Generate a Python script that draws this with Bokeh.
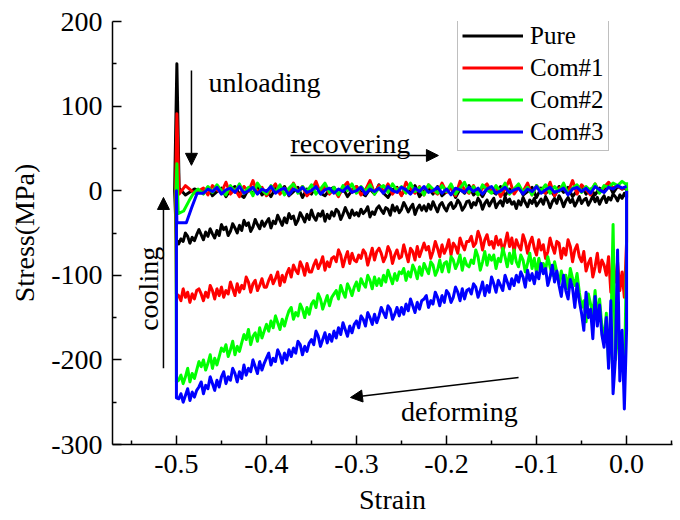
from bokeh.plotting import figure
from bokeh.models import Range1d, FixedTicker, Label, Arrow, NormalHead, Legend, LegendItem
from bokeh.embed import file_html
from bokeh.resources import INLINE

# ---------------- data ----------------
X_TICKS = [-0.5, -0.4, -0.3, -0.2, -0.1, 0.0]
X_TICK_LABELS = ["-0.5", "-0.4", "-0.3", "-0.2", "-0.1", "0.0"]
X_MINOR = [-0.55, -0.45, -0.35, -0.25, -0.15, -0.05, 0.05]
Y_TICKS = [-300, -200, -100, 0, 100, 200]
Y_TICK_LABELS = ["-300", "-200", "-100", "0", "100", "200"]
Y_MINOR = [-250, -150, -50, 50, 150]

SERIES = ["Pure", "Com#1", "Com#2", "Com#3"]

# strain along the deforming path (from 0 to -0.5)
S_DEFORM = [0.0, 0.0,
    -0.0025, -0.0050, -0.0075, -0.0100, -0.0125, -0.0150, -0.0175, -0.0200, -0.0225, -0.0250,
    -0.0275, -0.0300, -0.0325, -0.0350, -0.0375, -0.0400, -0.0425, -0.0450, -0.0475, -0.0500,
    -0.0525, -0.0550, -0.0575, -0.0600, -0.0625, -0.0650, -0.0675, -0.0700, -0.0725, -0.0750,
    -0.0775, -0.0800, -0.0825, -0.0850, -0.0875, -0.0900, -0.0925, -0.0950, -0.0975, -0.1000,
    -0.1025, -0.1050, -0.1075, -0.1100, -0.1125, -0.1150, -0.1175, -0.1200, -0.1225, -0.1250,
    -0.1275, -0.1300, -0.1325, -0.1350, -0.1375, -0.1400, -0.1425, -0.1450, -0.1475, -0.1500,
    -0.1525, -0.1550, -0.1575, -0.1600, -0.1625, -0.1650, -0.1675, -0.1700, -0.1725, -0.1750,
    -0.1775, -0.1800, -0.1825, -0.1850, -0.1875, -0.1900, -0.1925, -0.1950, -0.1975, -0.2000,
    -0.2025, -0.2050, -0.2075, -0.2100, -0.2125, -0.2150, -0.2175, -0.2200, -0.2225, -0.2250,
    -0.2275, -0.2300, -0.2325, -0.2350, -0.2375, -0.2400, -0.2425, -0.2450, -0.2475, -0.2500,
    -0.2525, -0.2550, -0.2575, -0.2600, -0.2625, -0.2650, -0.2675, -0.2700, -0.2725, -0.2750,
    -0.2775, -0.2800, -0.2825, -0.2850, -0.2875, -0.2900, -0.2925, -0.2950, -0.2975, -0.3000,
    -0.3025, -0.3050, -0.3075, -0.3100, -0.3125, -0.3150, -0.3175, -0.3200, -0.3225, -0.3250,
    -0.3275, -0.3300, -0.3325, -0.3350, -0.3375, -0.3400, -0.3425, -0.3450, -0.3475, -0.3500,
    -0.3525, -0.3550, -0.3575, -0.3600, -0.3625, -0.3650, -0.3675, -0.3700, -0.3725, -0.3750,
    -0.3775, -0.3800, -0.3825, -0.3850, -0.3875, -0.3900, -0.3925, -0.3950, -0.3975, -0.4000,
    -0.4025, -0.4050, -0.4075, -0.4100, -0.4125, -0.4150, -0.4175, -0.4200, -0.4225, -0.4250,
    -0.4275, -0.4300, -0.4325, -0.4350, -0.4375, -0.4400, -0.4425, -0.4450, -0.4475, -0.4500,
    -0.4525, -0.4550, -0.4575, -0.4600, -0.4625, -0.4650, -0.4675, -0.4700, -0.4725, -0.4750,
    -0.4775, -0.4800, -0.4825, -0.4850, -0.4875, -0.4900, -0.4925, -0.4950, -0.4975, -0.5000]

PURE_DEFORM = [2, -8,
    -3, -9, -5, -12, -7, -4, -11, -8, -14, -6,
    -10, -16, -8, -13, -6, -12, -17, -9, -11, -15,
    -7, -13, -18, -10, -14, -8, -12, -19, -11, -6,
    -15, -9, -13, -20, -12, -7, -16, -10, -14, -18,
    -9, -15, -11, -19, -14, -8, -17, -12, -21, -13,
    -16, -10, -14, -7, -18, -12, -15, -20, -9, -13,
    -18, -11, -15, -22, -13, -9, -17, -14, -20, -12,
    -13, -19, -23, -15, -11, -18, -21, -14, -17, -24,
    -20, -14, -17, -25, -19, -13, -22, -16, -24, -18,
    -23, -17, -21, -28, -16, -20, -25, -19, -14, -22,
    -26, -19, -24, -17, -29, -22, -20, -27, -23, -18,
    -21, -28, -25, -31, -19, -24, -27, -22, -30, -26,
    -29, -23, -32, -26, -20, -28, -34, -25, -22, -30,
    -25, -33, -28, -36, -24, -30, -27, -35, -31, -23,
    -34, -28, -37, -31, -26, -35, -40, -30, -33, -27,
    -38, -32, -41, -35, -29, -39, -36, -44, -33, -37,
    -42, -36, -45, -40, -34, -43, -48, -38, -41, -35,
    -47, -41, -50, -44, -39, -48, -53, -43, -46, -40,
    -53, -47, -56, -51, -45, -54, -49, -58, -52, -46,
    -52, -59, -55, -62, -54, -50, -60, -57, -63, -58]

COM1_DEFORM = [0, -60,
    -126, -96, -118, -84, -108, -92, -120, -78, -100, -88,
    -82, -96, -74, -90, -102, -80, -86, -95, -72, -84,
    -78, -64, -70, -84, -66, -58, -76, -68, -80, -62,
    -60, -74, -66, -56, -72, -80, -64, -70, -58, -76,
    -68, -55, -62, -74, -60, -52, -70, -65, -58, -72,
    -56, -66, -50, -62, -72, -58, -64, -54, -68, -60,
    -64, -52, -58, -70, -56, -48, -62, -66, -54, -60,
    -60, -70, -64, -56, -74, -66, -62, -76, -58, -68,
    -74, -64, -78, -68, -60, -72, -80, -66, -70, -62,
    -70, -78, -66, -82, -72, -68, -84, -74, -64, -78,
    -80, -70, -76, -86, -72, -66, -78, -84, -74, -68,
    -72, -82, -68, -78, -88, -74, -70, -80, -76, -84,
    -82, -74, -86, -72, -80, -90, -76, -70, -84, -78,
    -80, -90, -84, -94, -78, -86, -92, -82, -88, -96,
    -96, -86, -100, -90, -84, -98, -94, -88, -102, -92,
    -98, -108, -100, -112, -96, -104, -110, -100, -106, -114,
    -114, -104, -112, -118, -106, -110, -120, -108, -102, -116,
    -112, -120, -110, -124, -116, -108, -122, -118, -126, -114,
    -124, -116, -128, -118, -112, -126, -120, -130, -122, -116,
    -118, -128, -122, -132, -120, -126, -116, -130, -124, -122]

COM2_DEFORM = [10, -70,
    -230, -190, -210, -150, -200, -40, -170, -205, -145, -175,
    -160, -128, -150, -118, -146, -134, -122, -155, -130, -138,
    -120, -98, -112, -104, -92, -116, -100, -108, -95, -110,
    -96, -84, -100, -90, -78, -94, -86, -92, -80, -98,
    -80, -92, -74, -86, -96, -82, -76, -90, -84, -70,
    -86, -74, -90, -78, -68, -84, -80, -92, -76, -82,
    -76, -88, -72, -84, -94, -78, -70, -86, -82, -90,
    -88, -80, -94, -76, -86, -92, -82, -78, -96, -84,
    -86, -96, -82, -94, -100, -88, -84, -98, -92, -86,
    -100, -90, -104, -94, -88, -102, -96, -106, -92, -98,
    -96, -106, -98, -110, -102, -94, -108, -100, -112, -104,
    -112, -102, -116, -106, -100, -114, -110, -104, -118, -108,
    -114, -124, -116, -110, -126, -120, -112, -128, -118, -122,
    -126, -136, -124, -132, -140, -128, -122, -138, -130, -134,
    -146, -138, -150, -140, -134, -148, -144, -152, -138, -142,
    -150, -160, -152, -164, -156, -148, -162, -154, -166, -158,
    -166, -174, -162, -178, -168, -172, -182, -164, -176, -170,
    -180, -190, -184, -194, -178, -188, -196, -182, -190, -186,
    -196, -206, -198, -210, -194, -204, -212, -200, -208, -202,
    -212, -222, -216, -226, -210, -220, -228, -218, -224, -226]

COM3_DEFORM = [0, -165,
    -258, -165, -225, -70, -200, -240, -130, -210, -150, -185,
    -170, -135, -160, -125, -175, -140, -150, -120, -165, -145,
    -130, -110, -138, -115, -105, -128, -118, -100, -125, -112,
    -95, -108, -88, -102, -112, -92, -98, -86, -104, -96,
    -110, -98, -106, -94, -114, -102, -96, -108, -100, -112,
    -104, -116, -108, -100, -118, -112, -106, -120, -110, -102,
    -120, -112, -124, -108, -118, -126, -114, -110, -122, -116,
    -118, -128, -116, -130, -120, -114, -126, -132, -122, -118,
    -132, -124, -136, -126, -120, -134, -130, -138, -124, -128,
    -130, -140, -132, -144, -136, -128, -142, -134, -146, -138,
    -148, -138, -146, -152, -140, -136, -150, -144, -138, -148,
    -156, -146, -158, -150, -144, -160, -152, -148, -162, -154,
    -158, -168, -160, -172, -164, -156, -170, -162, -174, -166,
    -178, -170, -180, -168, -176, -184, -172, -166, -182, -176,
    -180, -190, -184, -194, -182, -178, -192, -186, -196, -188,
    -200, -192, -204, -194, -188, -202, -198, -206, -192, -198,
    -204, -212, -202, -216, -208, -200, -214, -210, -218, -206,
    -222, -214, -226, -216, -210, -224, -220, -228, -214, -220,
    -232, -224, -236, -228, -220, -234, -230, -240, -226, -232,
    -236, -244, -238, -248, -234, -242, -250, -240, -246, -245]

# cooling + unloading at strain ~ -0.5
PURE_TURN_STRAIN = [-0.502, -0.4995, -0.497, -0.490, -0.480]
PURE_TURN_STRESS = [0, 150, 3, -5, 2]
COM1_TURN_STRAIN = [-0.501, -0.4995, -0.497, -0.490, -0.480]
COM1_TURN_STRESS = [0, 91, -4, 6, -3]
COM2_TURN_STRAIN = [-0.5005, -0.4995, -0.498, -0.492, -0.486, -0.481, -0.476]
COM2_TURN_STRESS = [0, 32, -27, -24, -12, -3, 2]
COM3_TURN_STRAIN = [-0.500, -0.4995, -0.489, -0.483, -0.477]
COM3_TURN_STRESS = [0, -38, -38, -20, -3]

# recovering path (stress ~ 0, strain back to 0)
S_RECOVER = [-0.470, -0.465, -0.460, -0.455, -0.450, -0.445, -0.440, -0.435, -0.430, -0.425,
             -0.420, -0.415, -0.410, -0.405, -0.400, -0.395, -0.390, -0.385, -0.380, -0.375,
             -0.370, -0.365, -0.360, -0.355, -0.350, -0.345, -0.340, -0.335, -0.330, -0.325,
             -0.320, -0.315, -0.310, -0.305, -0.300, -0.295, -0.290, -0.285, -0.280, -0.275,
             -0.270, -0.265, -0.260, -0.255, -0.250, -0.245, -0.240, -0.235, -0.230, -0.225,
             -0.220, -0.215, -0.210, -0.205, -0.200, -0.195, -0.190, -0.185, -0.180, -0.175,
             -0.170, -0.165, -0.160, -0.155, -0.150, -0.145, -0.140, -0.135, -0.130, -0.125,
             -0.120, -0.115, -0.110, -0.105, -0.100, -0.095, -0.090, -0.085, -0.080, -0.075,
             -0.070, -0.065, -0.060, -0.055, -0.050, -0.045, -0.040, -0.035, -0.030, -0.025,
             -0.020, -0.015, -0.010, -0.005, 0.000]

PURE_RECOVER = [-2, 4, -6, -1, 3, -7, 1, 5, -4, -8,
                2, -3, 6, -5, 0, -7, 3, -2, 5, -6,
                -1, 4, -8, 2, -4, 6, -3, -6, 1, 4,
                -5, 3, -7, 0, 5, -2, -6, 2, -4, 7,
                -3, -8, 1, 4, -5, 2, -2, 6, -7, 0,
                3, -4, 5, -6, -1, 4, -8, 2, -3, 6,
                -5, 1, -7, 3, 0, -4, 5, -6, 2, -2,
                7, -5, -1, 4, -8, 3, -3, 1, -6, 5,
                -2, 4, -7, 0, 6, -4, 2, -5, 3, -1,
                8, -3, 5, 2, 4]
COM1_RECOVER = [3, -5, 6, 1, -2, 10, -4, 2, -7, 5,
                -1, 12, -3, 4, -6, 1, 8, -4, 3, -5,
                9, -2, 5, -6, 0, 11, -3, 6, -4, 2,
                -7, 4, 10, -2, 5, -5, 1, 12, -3, 6,
                -1, 8, -4, 3, -6, 10, 2, -3, 5, -5,
                7, 0, -4, 9, -2, 4, -6, 11, 1, -3,
                6, -5, 3, 8, -2, 5, -7, 2, 13, -4,
                4, -1, 9, -5, 6, 0, -3, 10, -6, 3,
                5, -2, 12, -4, 7, 1, -5, 8, -2, 4,
                10, 3, 6, 2, 5]
COM2_RECOVER = [-4, 5, -2, 7, 0, -5, 6, -1, 8, -3,
                4, -6, 9, 1, -4, 6, -2, 7, -5, 3,
                8, -3, 5, -1, 7, -4, 2, 9, -2, 4,
                -5, 6, 0, 8, -3, 5, -1, 7, -4, 3,
                6, -2, 8, 0, 5, -3, 9, -1, 4, -5,
                7, 2, -3, 6, -1, 8, -4, 3, 10, -2,
                5, -5, 7, 1, -3, 6, -1, 9, -4, 2,
                8, -2, 4, -5, 6, 0, 7, -3, 5, -1,
                9, -4, 3, 7, -2, 5, 0, 8, -3, 6,
                4, 9, 6, 11, 7]
COM3_RECOVER = [-3, 2, -1, 4, -4, 1, 3, -2, 5, -3,
                0, 4, -4, 2, -1, 5, -3, 1, 3, -5,
                2, -1, 4, -2, 0, 5, -4, 1, 3, -3,
                2, -1, 5, -2, 0, 4, -4, 2, -1, 3,
                -3, 5, 0, -2, 4, 1, -4, 3, -1, 5,
                -2, 0, 4, -3, 2, -5, 3, 1, -2, 4,
                -1, 3, -4, 2, 5, -3, 0, 4, -2, 1,
                3, -4, 2, -1, 5, -3, 1, 4, -2, 0,
                3, -5, 2, 4, -1, 3, -3, 5, 1, -2,
                4, 2, 6, 3, 5]

COLORS = ["#000000", "#ff0000", "#00ff00", "#0000ff"]

FONT = "Liberation Serif"
FONT_Q = "'Liberation Serif'"

# ---------------- figure ----------------
p = figure(width=680, height=520, output_backend="svg", toolbar_location=None,
           x_range=Range1d(-0.571, 0.051), y_range=Range1d(-300, 200),
           min_border_left=112, min_border_right=8, min_border_top=21,
           min_border_bottom=76)
p.xgrid.visible = False
p.ygrid.visible = False
p.outline_line_color = None
p.background_fill_color = "white"
p.border_fill_color = "white"

xa = p.xaxis[0]
ya = p.yaxis[0]
xa.ticker = FixedTicker(ticks=X_TICKS, minor_ticks=X_MINOR)
xa.major_label_overrides = {t: l for t, l in zip(X_TICKS, X_TICK_LABELS)}
ya.ticker = FixedTicker(ticks=Y_TICKS, minor_ticks=Y_MINOR)
ya.major_label_overrides = {t: l for t, l in zip(Y_TICKS, Y_TICK_LABELS)}
xa.axis_label = "Strain"
ya.axis_label = "Stress(MPa)"
for ax in (xa, ya):
    ax.axis_line_color = "black"
    ax.axis_line_width = 1.5
    ax.major_tick_line_color = "black"
    ax.major_tick_line_width = 1.5
    ax.minor_tick_line_color = "black"
    ax.minor_tick_line_width = 1.5
    ax.major_tick_in = 9
    ax.major_tick_out = 0
    ax.minor_tick_in = 4
    ax.minor_tick_out = 0
    ax.major_label_text_font = FONT_Q
    ax.major_label_text_font_size = "28px"
    ax.major_label_text_color = "black"
    ax.major_label_standoff = 10
    ax.axis_label_text_font = FONT_Q
    ax.axis_label_text_font_size = "28px"
    ax.axis_label_text_font_style = "normal"
    ax.axis_label_text_color = "black"
    ax.axis_label_standoff = 8

paths = [
    (PURE_DEFORM, PURE_TURN_STRAIN, PURE_TURN_STRESS, PURE_RECOVER),
    (COM1_DEFORM, COM1_TURN_STRAIN, COM1_TURN_STRESS, COM1_RECOVER),
    (COM2_DEFORM, COM2_TURN_STRAIN, COM2_TURN_STRESS, COM2_RECOVER),
    (COM3_DEFORM, COM3_TURN_STRAIN, COM3_TURN_STRESS, COM3_RECOVER),
]

items = []
for name, color, (dfm, ts, ty, rec) in zip(SERIES, COLORS, paths):
    xs = S_DEFORM + ts + S_RECOVER
    ys = dfm + ty + rec
    r = p.line(xs, ys, line_color=color, line_width=3, line_join="round")
    items.append(LegendItem(label=name, renderers=[r]))

legend = Legend(items=items, location=(345, 293),
                label_text_font=FONT_Q, label_text_font_size="25px",
                label_text_color="black",
                glyph_width=61, glyph_height=29, label_height=29,
                label_standoff=7, spacing=3, padding=4, margin=0,
                border_line_color="#808080", border_line_width=1.2,
                background_fill_color="white", background_fill_alpha=1.0)
p.add_layout(legend, "center")

# ---------------- annotations ----------------
def lab(x, y, t, **kw):
    p.add_layout(Label(x=x, y=y, text=t, text_font=FONT, text_font_size="28px",
                       text_color="black", **kw))

lab(-0.4644, 128, "unloading", text_align="left", text_baseline="alphabetic")
lab(-0.3733, 56, "recovering", text_align="left", text_baseline="alphabetic")
lab(-0.121, -261, "deforming", text_align="right", text_baseline="alphabetic")
lab(-0.531, -116, "cooling", text_align="center", text_baseline="alphabetic",
    angle=1.5707963)

def arr(x0, y0, x1, y1):
    p.add_layout(Arrow(x_start=x0, y_start=y0, x_end=x1, y_end=y1,
                       line_color="black", line_width=1.5,
                       end=NormalHead(size=12, fill_color="black",
                                      line_color="black", line_width=1)))

arr(-0.4833, 142, -0.4833, 30)
arr(-0.3733, 41.6, -0.209, 41.6)
arr(-0.120, -220.8, -0.3067, -244.4)
arr(-0.5144, -210, -0.5144, -8)

open("out.html", "w").write(file_html(p, INLINE))
